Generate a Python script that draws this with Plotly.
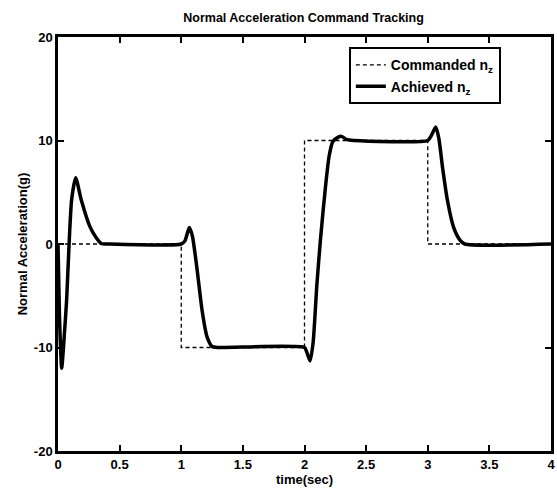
import plotly.graph_objects as go

cmd_t = [0, 1, 1, 2, 2, 3, 3, 4]
cmd_nz = [0, 0, -10, -10, 10, 10, 0, 0]

ach_t = [0.00, 0.012, 0.03, 0.05, 0.07, 0.09, 0.11, 0.143, 0.19, 0.258, 0.31, 0.35, 0.42,
         1.00, 1.03, 1.065, 1.09, 1.13, 1.17, 1.21, 1.25, 1.30,
         2.00, 2.02, 2.045, 2.07, 2.10, 2.13, 2.17, 2.20, 2.23, 2.27, 2.30, 2.34, 2.40,
         3.00, 3.03, 3.065, 3.09, 3.12, 3.16, 3.21, 3.26, 3.30, 4.00]
ach_nz = [0, -7, -12, -9, -5.4, 0, 4.2, 6.4, 4.2, 1.7, 0.6, 0.05, 0,
          0, 0.3, 1.6, 0.8, -2.6, -6.5, -9.0, -9.9, -10,
          -10, -10.5, -11.3, -9.5, -4, 0.5, 5.5, 8.5, 9.9, 10.3, 10.4, 10.1, 10,
          10, 10.5, 11.3, 10.2, 7.4, 4.2, 1.6, 0.4, 0, 0]

x_ticks = [0, 0.5, 1, 1.5, 2, 2.5, 3, 3.5, 4]
x_tick_labels = ["0", "0.5", "1", "1.5", "2", "2.5", "3", "3.5", "4"]
y_ticks = [-20, -10, 0, 10, 20]

FAM = "Liberation Sans, Arial"

fig = go.Figure()
fig.add_trace(go.Scatter(x=cmd_t, y=cmd_nz, mode="lines", name="<b>Commanded n<sub>z</sub></b>",
                         line=dict(color="black", width=1.3, dash="4px,3px")))
fig.add_trace(go.Scatter(x=ach_t, y=ach_nz, mode="lines", name="<b>Achieved n<sub>z</sub></b>",
                         line=dict(color="black", width=3.5, shape="spline", smoothing=0.6)))

axis_common = dict(showgrid=False, zeroline=False, showline=True, linecolor="black",
                   linewidth=2.5, mirror="ticks", ticks="inside", ticklen=6, tickwidth=2,
                   tickcolor="black", tickfont=dict(family=FAM, size=13, color="black"))

fig.update_layout(
    width=557, height=489,
    margin=dict(l=58, r=3, t=37, b=38),
    paper_bgcolor="white", plot_bgcolor="white",
    title=dict(text="<b>Normal Acceleration Command Tracking</b>", x=0.545, xanchor="center",
               y=0.963, yanchor="middle", font=dict(family=FAM, size=12.5, color="black")),
    xaxis=dict(range=[0, 4], tickvals=x_ticks, ticktext=["<b>%s</b>" % s for s in x_tick_labels],
               title=dict(text="<b>time(sec)</b>", standoff=2,
                          font=dict(family=FAM, size=13, color="black")),
               **axis_common),
    yaxis=dict(range=[-20, 20], tickvals=y_ticks, ticktext=["<b>%d</b>" % v for v in y_ticks],
               title=dict(text="<b>Normal Acceleration(g)</b>", standoff=4,
                          font=dict(family=FAM, size=13, color="black")),
               **axis_common),
    legend=dict(x=0.59, y=0.975, xanchor="left", yanchor="top", bgcolor="white",
                bordercolor="black", borderwidth=2,
                font=dict(family=FAM, size=14, color="black"),
                tracegroupgap=0, itemwidth=30),
    showlegend=True,
)

fig.write_html("out.html")
